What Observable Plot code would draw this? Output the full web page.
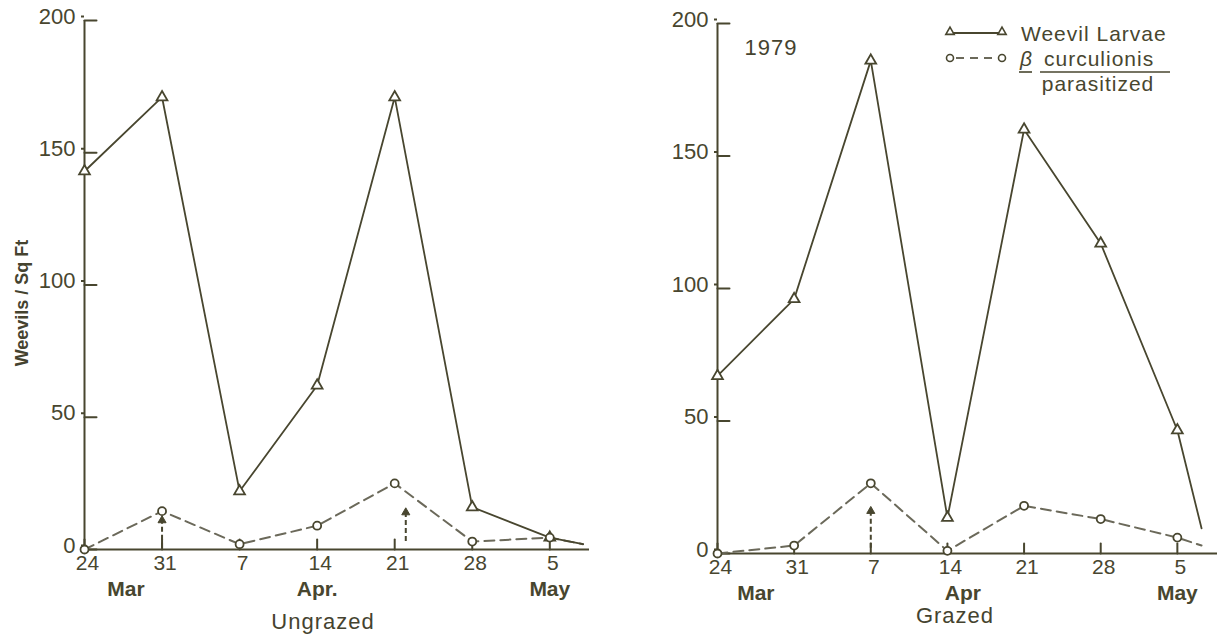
<!DOCTYPE html>
<html>
<head>
<meta charset="utf-8">
<script src="https://cdn.jsdelivr.net/npm/d3@7"></script>
<script src="https://cdn.jsdelivr.net/npm/@observablehq/plot@0.6"></script>
<style>
  html, body { margin: 0; padding: 0; background: #ffffff; }
  #wrap { position: relative; width: 1219px; height: 635px; overflow: hidden; font-family: "Liberation Sans", Arial, sans-serif; color: #45432f; }
  .abs { position: absolute; white-space: nowrap; line-height: 1; }
  .panel { position: absolute; top: 0; }
</style>
</head>
<body>
<div id="wrap"></div>
<script>
// ---------------- data ----------------
const sampleDates = ["1979-03-24", "1979-03-31", "1979-04-07", "1979-04-14", "1979-04-21", "1979-04-28", "1979-05-05"];
const dayLabels = ["24", "31", "7", "14", "21", "28", "5"];
const yTicks = [0, 50, 100, 150, 200];

// Ungrazed (left panel)
const ungrazedLarvae = [143, 171, 22, 62, 171, 16, 4.5];
const ungrazedParasitized = [0, 14.5, 2, 9, 25, 3, 4.5];
const ungrazedLarvaeEnd = ["1979-05-08", 2];
const ungrazedParasitizedEnd = ["1979-05-08", 2];
const ungrazedArrowDates = ["1979-03-31", "1979-04-22"];
const ungrazedArrowFrom = [0.5, 3];
const ungrazedArrowTo = [11, 14];
const ungrazedMonthDates = ["1979-03-27T18:00", "1979-04-14", "1979-05-05"];
const ungrazedMonthLabels = ["Mar", "Apr.", "May"];

// Grazed (right panel)
const grazedLarvae = [67, 96, 186, 13.5, 160, 117, 46.5];
const grazedParasitized = [0, 3, 26.5, 1, 18, 13, 6];
const grazedLarvaeEnd = ["1979-05-07T05:00", 9.5];
const grazedParasitizedEnd = ["1979-05-07T05:00", 3];
const grazedArrowDates = ["1979-04-07"];
const grazedArrowFrom = [2];
const grazedArrowTo = [16];
const grazedMonthDates = ["1979-03-27T12:00", "1979-04-15T10:00", "1979-05-05"];
const grazedMonthLabels = ["Mar", "Apr", "May"];

const ink = "#48462f";
const dashInk = "#6b695a";
const FONT = "Liberation Sans, Arial, sans-serif";

const D = s => new Date(s.length === 10 ? s + "T00:00Z" : s + "Z");
const lineShape = {draw(context, l) { context.moveTo(0, 0); context.lineTo(0, -l); }};

function panel(o) {
  const larvae = sampleDates.map((d, i) => ({date: D(d), v: o.larvae[i]}));
  const para = sampleDates.map((d, i) => ({date: D(d), v: o.para[i]}));
  const larvaeLine = [...larvae, {date: D(o.larvaeEnd[0]), v: o.larvaeEnd[1]}];
  const paraLine = [...para, {date: D(o.paraEnd[0]), v: o.paraEnd[1]}];
  const arrows = o.arrowDates.map((d, i) => ({date: D(d), y1: o.arrowFrom[i], y2: o.arrowTo[i]}));
  const xTickDates = sampleDates.map(D);
  const dayMap = new Map(xTickDates.map((d, i) => [+d, dayLabels[i]]));
  const monthDates = o.monthDates.map(D);
  const monthMap = new Map(monthDates.map((d, i) => [+d, o.monthLabels[i]]));
  const x0 = D(sampleDates[0]);

  return Plot.plot({
    width: o.width,
    height: 635,
    marginLeft: o.marginLeft,
    marginRight: o.marginRight,
    marginTop: o.marginTop,
    marginBottom: o.marginBottom,
    style: {fontFamily: FONT, fontSize: "22px", color: ink, background: "transparent", overflow: "visible"},
    x: {type: "utc", domain: [x0, D(o.xEnd)]},
    y: {domain: [0, 200]},
    marks: [
      Plot.ruleY([0], {stroke: ink, strokeWidth: 2}),
      Plot.ruleX([x0], {stroke: ink, strokeWidth: 2}),
      Plot.axisY(yTicks, {tickSize: 3, tickPadding: 6, stroke: ink, fill: ink, fontSize: 22, strokeWidth: 2, dy: -4, label: null}),
      Plot.vector(yTicks, {x: () => x0, y: d => d, length: 12, rotate: 90, anchor: "start", shape: lineShape, stroke: ink, strokeWidth: 2}),
      Plot.axisX(xTickDates, {tickSize: 0, tickPadding: 6, dx: 3, fill: ink, fontSize: 21, tickFormat: d => dayMap.get(+d), label: null}),
      Plot.vector(xTickDates, {x: d => d, y: () => 0, length: 10, anchor: "start", shape: lineShape, stroke: ink, strokeWidth: 2}),
      Plot.axisX(monthDates, {tickSize: 0, tickPadding: 32, fill: ink, fontSize: 21, fontWeight: "bold", tickFormat: d => monthMap.get(+d), label: null}),
      Plot.line(paraLine, {x: "date", y: "v", stroke: dashInk, strokeWidth: 2, strokeDasharray: "10,6"}),
      Plot.line(larvaeLine, {x: "date", y: "v", stroke: ink, strokeWidth: 1.8}),
      Plot.ruleX(arrows, {x: "date", y1: "y1", y2: "y2", stroke: ink, strokeWidth: 2, strokeDasharray: "5,3"}),
      Plot.dot(arrows, {x: "date", y: "y2", symbol: "triangle", r: 3, fill: ink, stroke: ink, strokeWidth: 1}),
      Plot.dot(larvae, {x: "date", y: "v", symbol: "triangle", r: 4, fill: "white", stroke: ink, strokeWidth: 1.8}),
      Plot.dot(para, {x: "date", y: "v", symbol: "circle", r: 4, fill: "white", stroke: ink, strokeWidth: 1.8})
    ]
  });
}

const wrap = document.getElementById("wrap");

const left = panel({
  larvae: ungrazedLarvae, para: ungrazedParasitized,
  larvaeEnd: ungrazedLarvaeEnd, paraEnd: ungrazedParasitizedEnd,
  arrowDates: ungrazedArrowDates, arrowFrom: ungrazedArrowFrom, arrowTo: ungrazedArrowTo,
  monthDates: ungrazedMonthDates, monthLabels: ungrazedMonthLabels,
  width: 609, marginLeft: 84, marginRight: 20, marginTop: 20, marginBottom: 86,
  xEnd: "1979-05-08T14:00"
});
left.classList.add("panel");
left.style.left = "0px";
wrap.appendChild(left);

const right = panel({
  larvae: grazedLarvae, para: grazedParasitized,
  larvaeEnd: grazedLarvaeEnd, paraEnd: grazedParasitizedEnd,
  arrowDates: grazedArrowDates, arrowFrom: grazedArrowFrom, arrowTo: grazedArrowTo,
  monthDates: grazedMonthDates, monthLabels: grazedMonthLabels,
  width: 600, marginLeft: 98, marginRight: 2, marginTop: 23, marginBottom: 82,
  xEnd: "1979-05-08T16:00"
});
right.classList.add("panel");
right.style.left = "619px";
wrap.appendChild(right);

// captions
function addText(txt, cx, cy, css) {
  const el = document.createElement("div");
  el.className = "abs";
  el.textContent = txt;
  el.style.left = cx + "px";
  el.style.top = cy + "px";
  el.style.transform = "translate(-50%, -50%)" + ((css && css.rot) ? " rotate(-90deg)" : "");
  if (css) { const c = {...css}; delete c.rot; Object.assign(el.style, c); }
  wrap.appendChild(el);
  return el;
}
addText("Ungrazed", 323, 622, {fontSize: "22px", letterSpacing: "1px"});
addText("Grazed", 955, 616, {fontSize: "22px", letterSpacing: "1px"});
addText("1979", 771, 48, {fontSize: "22px", letterSpacing: "1px"});
addText("Weevils / Sq Ft", 22, 303, {fontSize: "18px", fontWeight: "bold", rot: true});

// legend
const lg = d3.create("svg").attr("width", 240).attr("height", 100)
  .style("position", "absolute").style("left", "940px").style("top", "15px").style("overflow", "visible");
lg.append("line").attr("x1", 10).attr("x2", 62).attr("y1", 18).attr("y2", 18).attr("stroke", ink).attr("stroke-width", 1.8);
[10, 62].forEach(cx => lg.append("path").attr("d", d3.symbol(d3.symbolTriangle, 30)()).attr("transform", `translate(${cx},17)`)
  .attr("fill", "white").attr("stroke", ink).attr("stroke-width", 1.6));
lg.append("line").attr("x1", 10).attr("x2", 62).attr("y1", 43).attr("y2", 43).attr("stroke", dashInk).attr("stroke-width", 1.8).attr("stroke-dasharray", "8,6").attr("stroke-dashoffset", -6);
[10, 62].forEach(cx => lg.append("circle").attr("cx", cx).attr("cy", 43).attr("r", 3.5).attr("fill", "white").attr("stroke", ink).attr("stroke-width", 1.6));
const t = lg.append("g").attr("fill", ink).attr("font-family", FONT).attr("font-size", 21);
t.append("text").attr("x", 81).attr("y", 26).attr("letter-spacing", 1).text("Weevil Larvae");
t.append("text").attr("x", 80).attr("y", 51).attr("font-style", "italic").text("β");
t.append("line").attr("x1", 79).attr("x2", 92).attr("y1", 57).attr("y2", 57).attr("stroke", ink).attr("stroke-width", 1.6);
t.append("text").attr("x", 104).attr("y", 51).attr("letter-spacing", 1).text("curculionis");
t.append("line").attr("x1", 100).attr("x2", 230).attr("y1", 57).attr("y2", 57).attr("stroke", ink).attr("stroke-width", 1.6);
t.append("text").attr("x", 158).attr("y", 76).attr("text-anchor", "middle").attr("letter-spacing", 1).text("parasitized");
wrap.appendChild(lg.node());
</script>
</body>
</html>
